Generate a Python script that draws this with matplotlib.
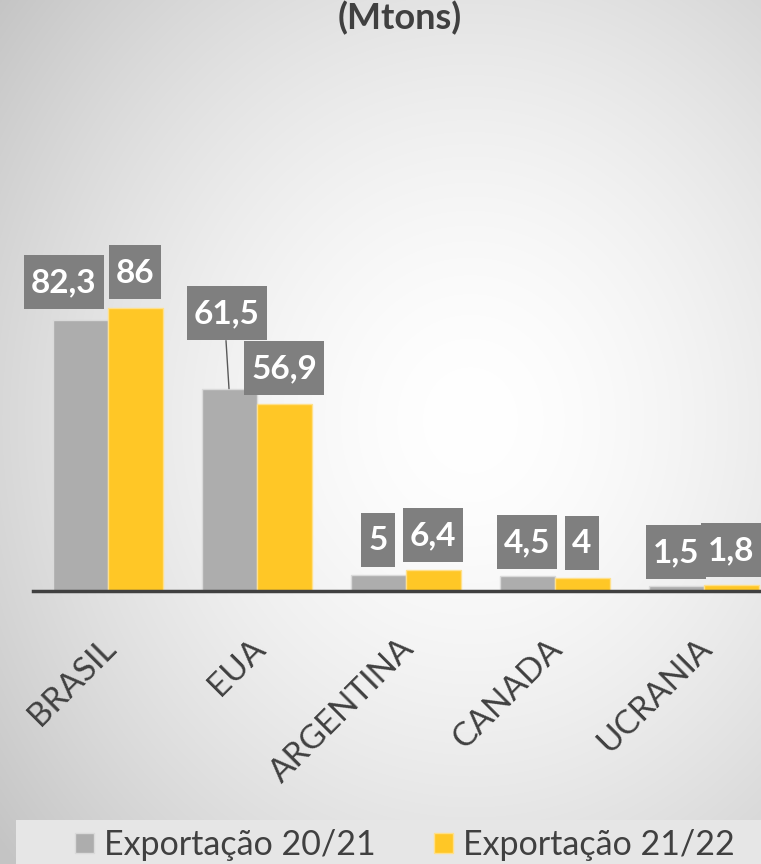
import numpy as np
import matplotlib
matplotlib.use("Agg")
import matplotlib.pyplot as plt
from matplotlib.patches import Rectangle
from matplotlib.transforms import IdentityTransform

categories = ["BRASIL", "EUA", "ARGENTINA", "CANADA", "UCRANIA"]
exp_2021 = [82.3, 61.5, 5.0, 4.5, 1.5]
exp_2122 = [86.0, 56.9, 6.4, 4.0, 1.8]
labels_2021 = ["82,3", "61,5", "5", "4,5", "1,5"]
labels_2122 = ["86", "56,9", "6,4", "4", "1,8"]
series_names = ["Exportação 20/21", "Exportação 21/22"]
title = "(Mtons)"

FONT = ["Lato", "DejaVu Sans"]
plt.rcParams["font.family"] = FONT

W, H = 761, 864
fig = plt.figure(figsize=(W / 100, H / 100), dpi=100)

# radial gradient background
bg = fig.add_axes([0, 0, 1, 1], zorder=-10)
yy, xx = np.mgrid[0:H, 0:W]
cx, cy = 470, 420
r = np.sqrt(((xx - cx) / 500.0) ** 2 + ((yy - cy) / 560.0) ** 2)
val = 1.0 - 0.17 * np.clip(r, 0, 1.2) ** 1.6
bg.imshow(np.dstack([val, val, val]), extent=[0, W, H, 0], aspect="auto")
bg.set_xlim(0, W)
bg.set_ylim(H, 0)
bg.axis("off")

# legend strip
bg.add_patch(Rectangle((16, 820), W - 16, 44, facecolor="#E6E6E6", edgecolor="none"))

gray = "#ADADAD"
yellow = "#FFC726"
axis_color = "#404040"
box_color = "#7F7F7F"

left = 33 / W
bottom = (H - 591) / H
ax = fig.add_axes([left, bottom, 745 / W, 329 / H])
ax.patch.set_alpha(0)
x = np.arange(len(categories))
bw = 55 / 149
b1 = ax.bar(x - bw / 2, exp_2021, width=bw, color=gray, edgecolor="#DADADA", linewidth=1, label=series_names[0])
b2 = ax.bar(x + bw / 2, exp_2122, width=bw, color=yellow, edgecolor="#FFE08A", linewidth=1, label=series_names[1])
ax.set_xlim(-0.5, len(categories) - 0.5)
ax.set_ylim(0, 100)
for s in ["top", "right", "left"]:
    ax.spines[s].set_visible(False)
ax.spines["bottom"].set_color(axis_color)
ax.spines["bottom"].set_linewidth(2.5)
ax.set_yticks([])
ax.set_xticks(x)
ax.set_xticklabels([])
ax.tick_params(axis="x", length=0)

for i, c in enumerate(categories):
    ax.annotate(c, xy=(x[i], 0), xytext=(-7, -42), textcoords="offset pixels",
                rotation=45, rotation_mode="anchor", ha="right", va="top",
                fontsize=24, color=axis_color, annotation_clip=False)

offsets_2021 = [(-16, 37), (-2, 75), (0, 34), (0, 33), (0, 33)]
offsets_2122 = [(0, 35), (0, 35), (0, 34), (0, 34), (0, 34)]
label_texts = []
for i in range(len(categories)):
    for xs, vals, labs, offs in [(x - bw / 2, exp_2021, labels_2021, offsets_2021),
                                   (x + bw / 2, exp_2122, labels_2122, offsets_2122)]:
        dx, dy = offs[i]
        t = ax.annotate(labs[i], xy=(xs[i], vals[i]), xytext=(dx, dy), textcoords="offset pixels",
                        ha="center", va="center", fontsize=24, fontweight="bold", color="white",
                        annotation_clip=False, zorder=6)
        label_texts.append(t)
    if i == 1:
        ax.annotate("", xy=(x[i] - bw / 2, exp_2021[i]), xytext=(-3, 48), textcoords="offset pixels",
                    arrowprops=dict(arrowstyle="-", color="#595959", lw=1, shrinkA=0, shrinkB=0),
                    annotation_clip=False)

fig.text(400 / W, 1 - 1 / H, title, ha="center", va="top", fontsize=26,
         fontweight="bold", color=axis_color)

leg = fig.legend(handles=[b1, b2], labels=series_names, loc="center",
                 bbox_to_anchor=(405 / W, 1 - 845 / H), ncol=2, frameon=False,
                 fontsize=24.5, handlelength=0.55, handleheight=0.55, handletextpad=0.3,
                 columnspacing=1.7, labelcolor=axis_color)

# draw boxes behind data labels, sized from the rendered text
fig.canvas.draw()
renderer = fig.canvas.get_renderer()
for t in label_texts:
    ext = t.get_window_extent(renderer)
    bw_px = ext.width + 14
    bh_px = 54
    cxp = (ext.x0 + ext.x1) / 2
    cyp = (ext.y0 + ext.y1) / 2 + 1
    rect = Rectangle((cxp - bw_px / 2, cyp - bh_px / 2), bw_px, bh_px,
                     transform=IdentityTransform(), facecolor=box_color,
                     edgecolor="none", zorder=5, clip_on=False)
    ax.add_patch(rect)

fig.savefig("out.png", dpi=100)
